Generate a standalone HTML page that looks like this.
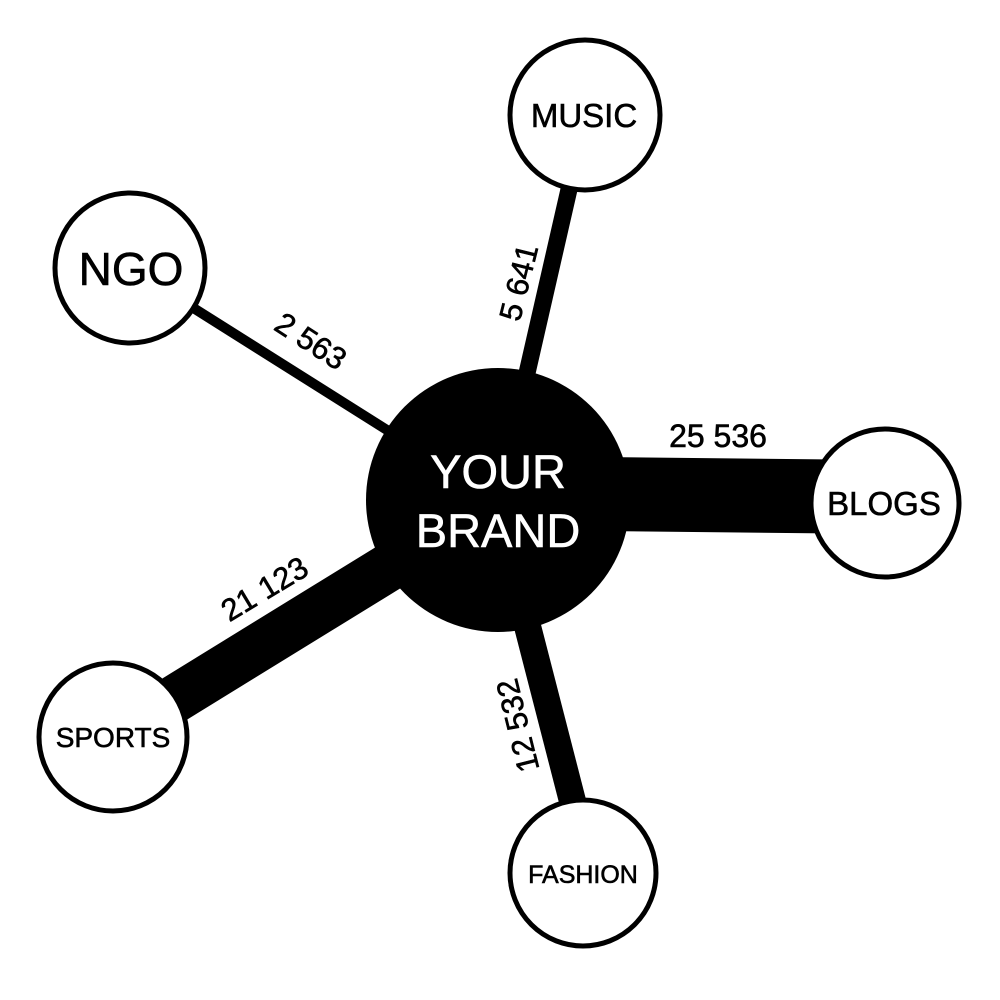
<!DOCTYPE html>
<html><head><meta charset="utf-8"><style>html,body{margin:0;padding:0;background:#fff;width:1000px;height:1000px;overflow:hidden}</style></head>
<body>
<svg width="1000" height="1000" viewBox="0 0 1000 1000" xmlns="http://www.w3.org/2000/svg" font-family="Liberation Sans, Arial, sans-serif">
<rect width="1000" height="1000" fill="#fff"/>
<g stroke="#000" stroke-linecap="butt">
<line x1="130" y1="268" x2="498" y2="500" stroke-width="10"/>
<line x1="586" y1="115" x2="498" y2="500" stroke-width="17"/>
<line x1="498" y1="493" x2="885" y2="497" stroke-width="74"/>
<line x1="113" y1="737" x2="498" y2="500" stroke-width="48"/>
<line x1="591" y1="873" x2="495" y2="500" stroke-width="27"/>
</g>
<circle cx="498" cy="500" r="132" fill="#000"/>
<g fill="#fff" stroke="#000" stroke-width="5">
<circle cx="585" cy="115" r="75"/>
<circle cx="130" cy="268" r="75"/>
<circle cx="885" cy="503" r="74"/>
<circle cx="113" cy="737" r="74"/>
<circle cx="583" cy="873" r="73"/>
</g>
<g text-anchor="middle" fill="#000" stroke="#000" stroke-width="0.6">
<text x="498" y="488" font-size="47" fill="#fff" stroke="#fff">YOUR</text>
<text x="498" y="547" font-size="47" fill="#fff" stroke="#fff">BRAND</text>
<text x="584" y="127" font-size="33">MUSIC</text>
<text x="131" y="285" font-size="46">NGO</text>
<text x="884" y="515" font-size="33">BLOGS</text>
<text x="113" y="747" font-size="28">SPORTS</text>
<text x="583" y="883" font-size="25">FASHION</text>
<text x="718" y="447" font-size="32">25 536</text>
<text transform="translate(305,350) rotate(33)" font-size="31">2 563</text>
<text transform="translate(529,285) rotate(-76)" font-size="31">5 641</text>
<text transform="translate(270,598) rotate(-31)" font-size="31">21 123</text>
<text transform="translate(528,723) rotate(-104)" font-size="31">12 532</text>
</g>
</svg>
</body></html>
